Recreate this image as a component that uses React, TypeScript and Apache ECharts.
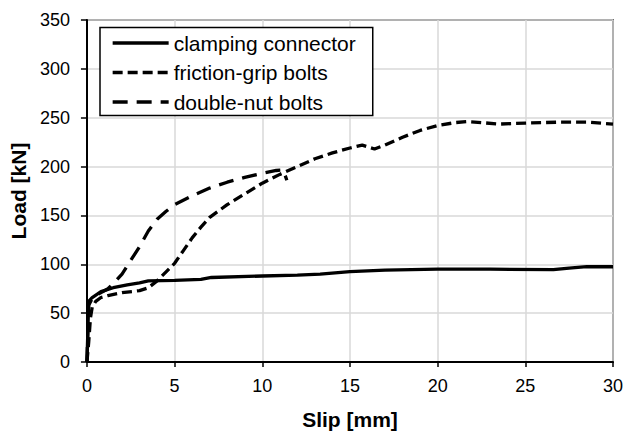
import React, { useEffect, useRef } from "react";
import * as echarts from "echarts";

const seriesNames = ["clamping connector", "friction-grip bolts", "double-nut bolts"];

const clamping: [number, number][] = [
  [0, 0], [0.05, 30], [0.1, 62], [0.3, 66], [0.8, 72], [1.5, 76], [2.3, 79], [3.0, 81],
  [3.5, 83], [5.0, 83.5], [6.5, 84.5], [7.1, 86.5], [10.0, 88], [12.0, 89], [13.3, 90],
  [15.0, 92.5], [17.0, 94], [20.0, 95], [23.0, 95], [26.6, 94.6], [27.5, 96], [28.5, 97.5],
  [30.0, 97.5],
];

const frictionGrip: [number, number][] = [
  [0, 0], [0.1, 20], [0.2, 45], [0.3, 56], [0.5, 62], [0.8, 66], [1.2, 68], [2.0, 71],
  [3.0, 73], [3.5, 76], [4.0, 83], [4.5, 92], [5.0, 101], [5.5, 114], [6.0, 127], [6.5, 138],
  [7.0, 148], [8.0, 161], [9.0, 172], [10.0, 183], [11.0, 192], [12.0, 200], [13.0, 208],
  [14.0, 214], [15.0, 219], [15.7, 222], [16.4, 218], [17.0, 222], [18.0, 230], [19.0, 237],
  [20.0, 242], [21.0, 245], [21.7, 246], [22.5, 245], [23.5, 243.5], [25.0, 244.5],
  [27.0, 245.5], [28.5, 245.5], [30.0, 243.5],
];

const doubleNut: [number, number][] = [
  [0, 0], [0.05, 30], [0.1, 58], [0.3, 65], [0.7, 70], [1.2, 75], [1.6, 82], [2.0, 90],
  [2.5, 104], [3.0, 118], [3.5, 134], [4.0, 146], [4.5, 154], [5.0, 161], [6.0, 170],
  [7.0, 178], [8.0, 184], [9.0, 189], [10.0, 193], [10.8, 196], [11.2, 196.5], [11.4, 186],
];

const xTicks = { min: 0, max: 30, interval: 5 };
const yTicks = { min: 0, max: 350, interval: 50 };

const FONT = "Liberation Sans, Arial, sans-serif";

export default function App() {
  const ref = useRef<HTMLDivElement>(null);

  useEffect(() => {
    if (!ref.current) return;
    const chart = echarts.init(ref.current, undefined, { renderer: "svg" });
    const lineCommon = (name: string, data: [number, number][], type: any) => ({
      name,
      type: "line",
      data,
      showSymbol: false,
      symbol: "none",
      smooth: false,
      lineStyle: { color: "#000", width: 3.3, type, cap: "butt" },
      itemStyle: { color: "#000" },
    });
    chart.setOption({
      animation: false,
      backgroundColor: "#fff",
      textStyle: { fontFamily: FONT },
      grid: {
        left: 86,
        right: 14,
        top: 20,
        bottom: 70,
        show: true,
        borderColor: "#000",
        borderWidth: 1.5,
        containLabel: false,
      },
      legend: {
        orient: "vertical",
        left: 100,
        top: 27.5,
        data: seriesNames,
        itemWidth: 56,
        itemHeight: 14,
        itemGap: 8.5,
        padding: [5, 17, 3, 11],
        borderColor: "#000",
        borderWidth: 1.5,
        borderRadius: 0,
        backgroundColor: "#fff",
        itemStyle: { opacity: 0, borderWidth: 0 },
        lineStyle: { width: 3.3 },
        textStyle: { fontFamily: FONT, fontSize: 21, color: "#000", padding: [0, 0, 0, 0] },
        selectedMode: false,
      },
      xAxis: {
        type: "value",
        min: xTicks.min,
        max: xTicks.max,
        interval: xTicks.interval,
        name: "Slip [mm]",
        nameLocation: "middle",
        nameGap: 47,
        nameTextStyle: { fontFamily: FONT, fontSize: 21, fontWeight: "bold", color: "#000" },
        axisLine: { onZero: false, lineStyle: { color: "#000", width: 2 } },
        axisTick: { show: true, inside: false, length: 5, lineStyle: { color: "#000", width: 1.5 } },
        axisLabel: { fontFamily: FONT, fontSize: 18, color: "#000", margin: 15 },
        splitLine: { show: true, lineStyle: { color: "#d9d9d9", width: 1.5 } },
      },
      yAxis: {
        type: "value",
        min: yTicks.min,
        max: yTicks.max,
        interval: yTicks.interval,
        name: "Load [kN]",
        nameLocation: "middle",
        nameGap: 55,
        nameTextStyle: { fontFamily: FONT, fontSize: 21, fontWeight: "bold", color: "#000" },
        axisLine: { show: true, onZero: false, lineStyle: { color: "#000", width: 2 } },
        axisTick: { show: true, inside: false, length: 6, lineStyle: { color: "#000", width: 1.5 } },
        axisLabel: { fontFamily: FONT, fontSize: 18, color: "#000", margin: 17 },
        splitLine: { show: true, lineStyle: { color: "#d9d9d9", width: 1.5 } },
      },
      series: [
        lineCommon(seriesNames[0], clamping, "solid"),
        lineCommon(seriesNames[1], frictionGrip, [10, 5]),
        lineCommon(seriesNames[2], doubleNut, [15, 9]),
      ],
    });
    return () => chart.dispose();
  }, []);

  return (
    <div
      ref={ref}
      style={{ position: "fixed", left: 0, top: 0, width: 627, height: 435 }}
    />
  );
}
